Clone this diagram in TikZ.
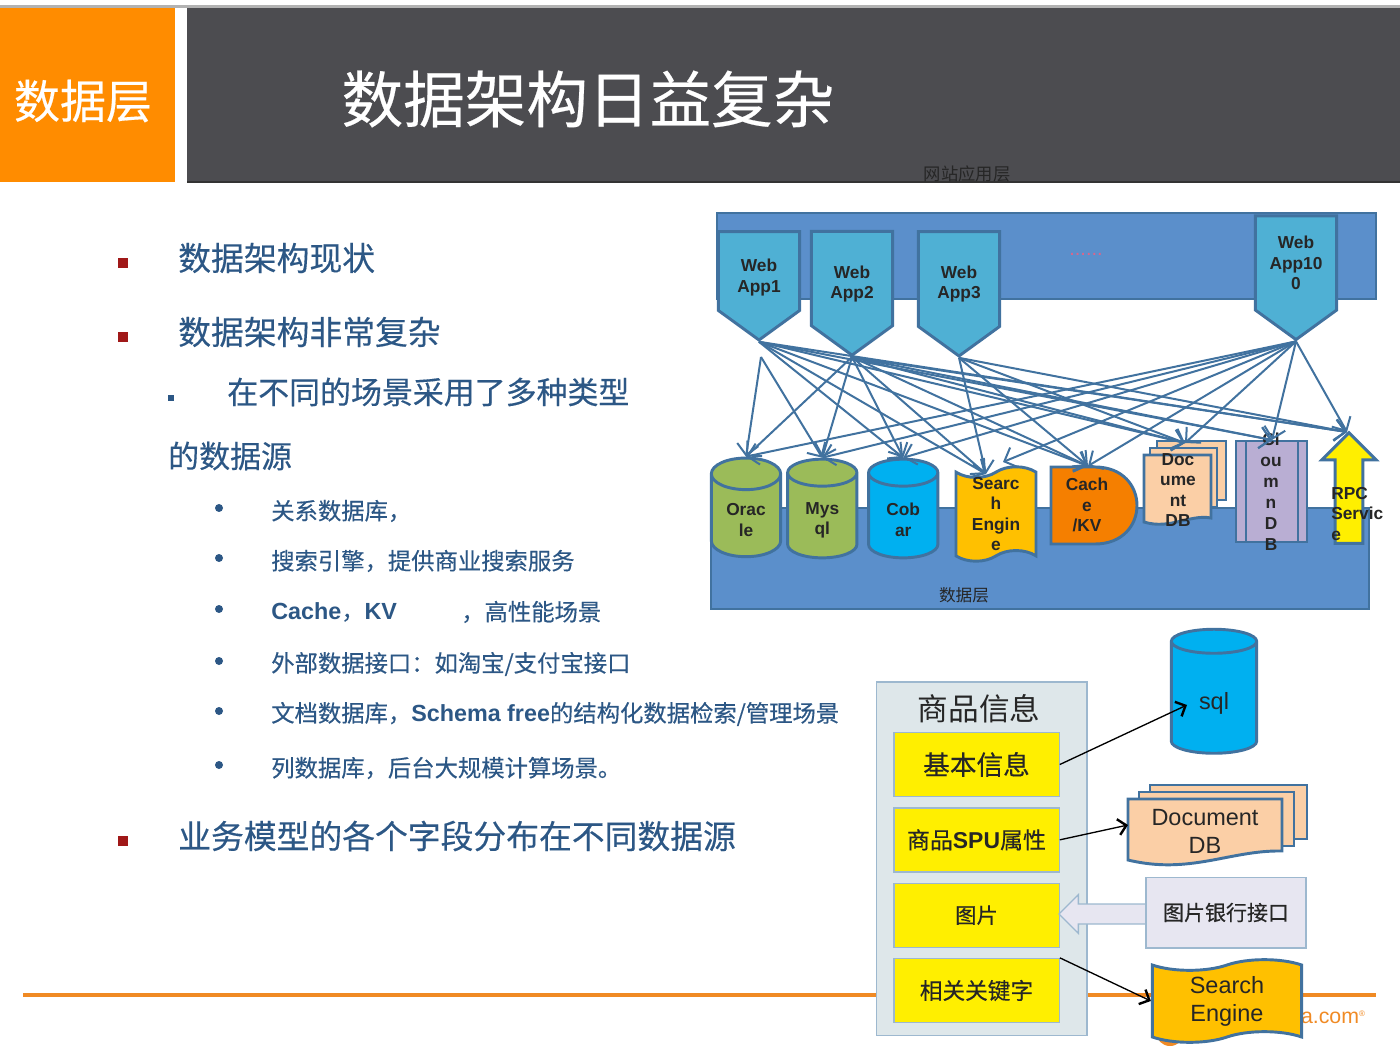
\documentclass[tikz,border=0pt]{standalone}
\usepackage{fontspec}
\setmainfont{Liberation Sans}
\setsansfont{Liberation Sans}
\newfontfamily\cjk{Noto Sans CJK SC}
\newfontfamily\cjkm[FakeBold=0.35]{Noto Sans CJK SC}
\usetikzlibrary{positioning, arrows.meta, shapes.geometric, shapes.symbols, shapes.arrows}

\definecolor{edgeblue}{HTML}{41729F}
\definecolor{layerblue}{HTML}{5B8FCB}
\definecolor{appblue}{HTML}{4FB0D4}
\definecolor{listblue}{HTML}{2C5785}
\definecolor{bulletred}{HTML}{A01818}
\definecolor{barorange}{HTML}{F08A24}
\definecolor{chapterorange}{HTML}{FF8C00}
\definecolor{titlegrey}{HTML}{4C4C50}
\definecolor{waveyellow}{HTML}{FFC000}
\definecolor{docpeach}{HTML}{FBCFA6}
\definecolor{boxyellow}{HTML}{FFEF00}
\definecolor{panelline}{HTML}{9DB8CF}
\definecolor{panelfill}{HTML}{DEE7EA}
\definecolor{bankfill}{HTML}{E7E6F1}
\definecolor{cachefill}{HTML}{F57F00}
\definecolor{columnfill}{HTML}{B9AED3}
\definecolor{dbgreen}{HTML}{9BBB59}
\definecolor{dbblue}{HTML}{00B0F0}

\begin{document}
\begin{tikzpicture}[
  x=0.75pt, y=-0.75pt,
  align=center,
  font=\sffamily,
  % Text styles
  title/.style={anchor=center, text=white, inner sep=0pt, font=\cjkm\fontsize{46.2}{50}\selectfont},
  head/.style={anchor=west, text=listblue, inner sep=0pt, font=\cjkm\fontsize{24.6}{28}\selectfont},
  subhead/.style={anchor=west, text=listblue, inner sep=0pt, font=\cjkm\fontsize{23.2}{27}\selectfont},
  entry/.style={anchor=west, text=listblue, inner sep=0pt, font=\cjkm\fontsize{17.5}{21}\selectfont},
  tag/.style={inner sep=0pt, text=black!85, font=\cjk\fontsize{13}{15}\selectfont},
  applabel/.style={inner sep=0pt, text=black!85, font=\sffamily\bfseries\fontsize{13}{15.2}\selectfont},
  biglabel/.style={inner sep=0pt, text=black!85, font=\sffamily\fontsize{17.6}{21}\selectfont},
  % Bullets
  sqbullet/.style={fill=bulletred, minimum size=7pt, inner sep=0pt},
  smallbullet/.style={fill=listblue, minimum size=5pt, inner sep=0pt},
  dotbullet/.style={circle, fill=listblue, minimum size=6pt, inner sep=0pt},
  % Block styles
  layer/.style={draw=edgeblue, line width=1.5pt, fill=layerblue},
  webapp/.style={signal, signal to=south, signal pointer angle=108, draw=edgeblue, line width=2.2pt, fill=appblue, minimum width=61pt, inner sep=0pt},
  db/.style={cylinder, shape border rotate=90, aspect=0.8, draw=edgeblue, line width=2.2pt, minimum width=52pt, inner sep=0pt, cylinder uses custom fill},
  wave/.style={tape, tape bend top=in and out, tape bend bottom=in and out, tape bend height=8pt, draw=edgeblue, line width=2.2pt, fill=waveyellow, inner sep=0pt},
  page/.style={draw=edgeblue, line width=2.2pt, fill=docpeach},
  yellowbox/.style={draw=panelline, line width=1pt, fill=boxyellow, minimum width=124pt, minimum height=48pt, inner sep=0pt, text=black!85},
  % Arrow styles
  line/.style={draw=edgeblue, line width=1.5pt, -{Straight Barb[length=8pt, width=16pt]}},
  blackline/.style={draw=black, line width=1pt, -{Straight Barb[length=6pt, width=12pt, line width=1.8pt]}}
]

  \useasboundingbox (0,0) rectangle (1400,1048);

  % ==========================================
  % TITLE BAR
  % ==========================================
  \fill[black!30] (0,5) rectangle (1400,8);
  \fill[chapterorange] (0,8) rectangle (175,182);
  \fill[titlegrey] (187,8) rectangle (1400,182);
  \draw[black!80, line width=0.8pt] (187,182) -- (1400,182);
  \node[title, font=\cjkm\fontsize{34.5}{38}\selectfont] (chapter) at (83,101) {数据层};
  \node[title] (heading) at (588,99) {数据架构日益复杂};

  % ==========================================
  % BULLET LIST
  % ==========================================
  \node[sqbullet] (b1) at (123,263) {};
  \node[head] (t1) at (178,258) {数据架构现状};
  \node[sqbullet] (b2) at (123,337) {};
  \node[head] (t2) at (178,332) {数据架构非常复杂};
  \node[smallbullet] (b3) at (171,398) {};
  \node[subhead] (t3) at (227,392) {在不同的场景采用了多种类型};
  \node[subhead] (t3b) at (168,456) {的数据源};

  \node[dotbullet] (d1) at (219,508) {};
  \node[entry] (e1) at (271,511) {关系数据库，};
  \node[dotbullet] (d2) at (219,558) {};
  \node[entry] (e2) at (271,561) {搜索引擎，提供商业搜索服务};
  \node[dotbullet] (d3) at (219,609) {};
  \node[entry] (e3) at (271,612) {{\sffamily\bfseries Cache}，{\sffamily\bfseries KV}};
  \node[entry] (e3b) at (461,612) {，高性能场景};
  \node[dotbullet] (d4) at (219,661) {};
  \node[entry] (e4) at (271,664) {外部数据接口：如淘宝/支付宝接口};
  \node[dotbullet] (d5) at (219,711) {};
  \node[entry] (e5) at (271,714) {文档数据库，{\sffamily\bfseries Schema free}的结构化数据检索/管理场景};
  \node[dotbullet] (d6) at (219,765) {};
  \node[entry] (e6) at (271,768) {列数据库，后台大规模计算场景。};
  \node[sqbullet] (b4) at (123,841) {};
  \node[head] (t4) at (178,836) {业务模型的各个字段分布在不同数据源};

  % ==========================================
  % FOOTER LINE
  % ==========================================
  \draw[barorange, line width=3.5pt] (23,995) -- (1376,995);
  \fill[barorange] (1170,1032) circle[radius=14];
  \node[inner sep=0pt, text=barorange, font=\sffamily\fontsize{16}{18}\selectfont] (brand) at (1333,1017) {a.com\raisebox{5pt}{\fontsize{6}{6}\selectfont\textregistered}};

  % ==========================================
  % APPLICATION LAYER
  % ==========================================
  \path[layer] (717,213) rectangle (1376,299);
  \node[tag] (applayer) at (967,174) {网站应用层};
  \node[inner sep=0pt, text=purple!60, font=\sffamily\fontsize{15}{15}\selectfont] (dots) at (1086,254) {......};

  \node[webapp, minimum height=71pt, applabel] (app1) at (759,271) {\mbox{}\\[4pt]Web\\App1};
  \node[webapp, minimum height=82.5pt, applabel] (app2) at (852,278.5) {\mbox{}\\[2pt]Web\\App2};
  \node[webapp, minimum height=83pt, applabel] (app3) at (959,279) {\mbox{}\\[2pt]Web\\App3};
  \node[webapp, minimum height=85pt, applabel] (app100) at (1296,263) {Web\\App10\\0};
  \coordinate (app1b) at (761,357);

  % ==========================================
  % DATA LAYER
  % ==========================================
  \path[layer] (711,508) rectangle (1369,609);
  \node[tag, font=\cjk\fontsize{12.5}{15}\selectfont] (datalayer) at (964,595) {数据层};

  \node[db, minimum height=74pt, cylinder body fill=dbgreen, cylinder end fill=dbgreen, applabel] (oracle) at (746,516) {\mbox{}\\Orac\\le};
  \node[db, minimum height=74pt, cylinder body fill=dbgreen, cylinder end fill=dbgreen, applabel, right=3pt of oracle] (mysql) {\mbox{}\\Mys\\ql};
  \node[db, minimum height=74pt, cylinder body fill=dbblue, cylinder end fill=dbblue, applabel, right=6.5pt of mysql] (cobar) {\mbox{}\\Cob\\ar};
  \node[wave, minimum width=60pt, minimum height=66pt, applabel] (search) at (996,514) {Searc\\h\\Engin\\e};
  \draw[edgeblue, line width=2.2pt, fill=cachefill] (1051,467) -- (1095,467) .. controls (1151,467) and (1151,544) .. (1095,544) -- (1051,544) -- cycle;
  \node[applabel] (cache) at (1087,505) {Cach\\e\\/KV};
  \coordinate (cachetop) at (1088,466);
  \coordinate (searchin) at (986,474);
  \coordinate (searchtop) at (1003,462);

  \path[page] (1157,441) rectangle (1226,500);
  \path[page] (1150,448) rectangle (1217,507);
  \path[page] (1144,455) -- (1211,455) -- (1211,518) .. controls (1190,514) and (1170,530) .. (1144,522) -- cycle;
  \node[applabel] (document) at (1178,490) {Doc\\ume\\nt\\DB};
  \coordinate (doctop) at (1185,443);

  \path[page, fill=columnfill] (1236,441) rectangle (1307,542);
  \draw[edgeblue, line width=2.2pt] (1246,441) -- (1246,542) (1298,441) -- (1298,542);
  \node[applabel, font=\sffamily\bfseries\fontsize{13}{15.8}\selectfont] (column) at (1271,492) {Cl\\ou\\m\\n\\D\\B};
  \coordinate (columntop) at (1272,440);

  \node[single arrow, shape border rotate=90, draw=edgeblue, line width=2.2pt, fill=boxyellow, minimum height=83pt, single arrow head extend=10pt, inner sep=0pt] (rpcarrow) at (1349,495) {\phantom{\rule{18.5pt}{18.5pt}}};
  \node[applabel, anchor=west, align=left] (rpc) at (1331,514) {RPC\\Servic\\e};
  \coordinate (rpctop) at (1347,432);

  % ==========================================
  % CONNECTIONS TO THE DATA STORES
  % ==========================================
  \draw[line] (app1b) -- (oracle.north);
  \draw[line] (app1b) -- (mysql.north);
  \draw[line] (app1.south) -- (cobar.north);
  \draw[line] (app1.south) -- (searchin);
  \draw[line] (app1.south) -- (cachetop);
  \draw[line] (app1.south) -- (doctop);
  \draw[line] (app1.south) -- (columntop);
  \draw[line] (app1.south) -- (rpctop);

  \draw[line] (app2.south) -- (oracle.north);
  \draw[line] (app2.south) -- (mysql.north);
  \draw[line] (app2.south) -- (cobar.north);
  \draw[line] (app2.south) -- (searchin);
  \draw[line] (app2.south) -- (cachetop);
  \draw[line] (app2.south) -- (doctop);
  \draw[line] (app2.south) -- (columntop);
  \draw[line] (app2.south) -- (rpctop);

  \draw[line] (app3.south) -- (searchin);
  \draw[line] (app3.south) -- (cachetop);
  \draw[line] (app3.south) -- (doctop);
  \draw[line] (app3.south) -- (rpctop);

  \draw[line] (app100.south) -- (oracle.north);
  \draw[line] (app100.south) -- (mysql.north);
  \draw[line] (app100.south) -- (cobar.north);
  \draw[line] (app100.south) -- (searchtop);
  \draw[line] (app100.south) -- (cachetop);
  \draw[line] (app100.south) -- (doctop);
  \draw[line] (app100.south) -- (columntop);
  \draw[line] (app100.south) -- (rpctop);

  % ==========================================
  % PRODUCT INFORMATION PANEL
  % ==========================================
  \node[draw=panelline, line width=1pt, fill=panelfill, minimum width=158pt, minimum height=265pt, inner sep=0pt] (panel) at (981.5,858.5) {};
  \node[inner sep=0pt, text=black!85, font=\cjk\fontsize{23}{26}\selectfont] (paneltitle) at (979,709) {商品信息};
  \node[yellowbox, font=\cjkm\fontsize{20}{24}\selectfont] (basic) at (976.5,764.5) {基本信息};
  \node[yellowbox, font=\cjkm\fontsize{17.2}{20}\selectfont, below=7.5pt of basic] (spu) {商品{\sffamily\bfseries SPU}属性};
  \node[yellowbox, font=\cjkm\fontsize{16}{20}\selectfont, below=7.5pt of spu] (picture) {图片};
  \node[yellowbox, font=\cjkm\fontsize{17}{20}\selectfont, below=7.5pt of picture] (keyword) {相关关键字};

  % ==========================================
  % PRODUCT DATA SOURCES
  % ==========================================
  \node[db, minimum width=64pt, minimum height=93pt, cylinder body fill=dbblue, cylinder end fill=dbblue, biglabel] (sql) at (1214,698) {\mbox{}\\sql};
  \coordinate (sqlin) at (1187,705);

  \path[page] (1150,785) rectangle (1307,839);
  \path[page] (1139,792) rectangle (1294,846);
  \path[page] (1128,799) -- (1282,799) -- (1282,851) .. controls (1230,850) and (1190,875) .. (1128,860) -- cycle;
  \node[biglabel] (docdb) at (1205,831) {Document\\DB};
  \coordinate (docin) at (1128,825);

  \node[single arrow, shape border rotate=180, draw=panelline, line width=1pt, fill=bankfill, minimum height=66pt, single arrow head extend=7pt, inner sep=0pt] (bankarrow) at (1108,914) {\phantom{\rule{14pt}{14pt}}};
  \node[draw=panelline, line width=1pt, fill=bankfill, minimum width=120pt, minimum height=53pt, inner sep=0pt, text=black!85, font=\cjkm\fontsize{15.75}{19}\selectfont] (bank) at (1226,912.5) {图片银行接口};

  \node[wave, minimum width=112pt, minimum height=62pt, biglabel] (engine) at (1227,1001) {Search\\Engine};

  \draw[blackline] (basic.east) -- (sqlin);
  \draw[blackline] (spu.east) -- (docin);
  \draw[blackline] (keyword.north east) -- (engine.west);

\end{tikzpicture}
\end{document}
